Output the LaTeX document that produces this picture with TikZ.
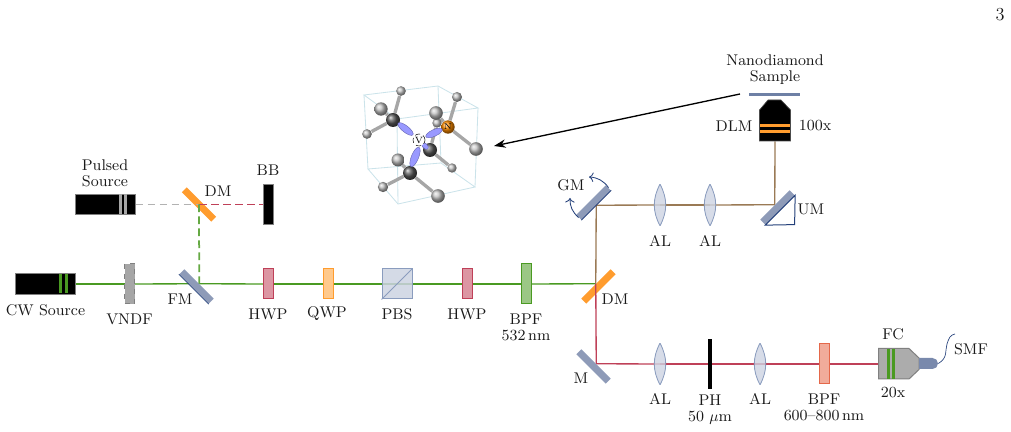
\documentclass[tikz,border=0pt]{standalone}
\usetikzlibrary{arrows.meta,shapes.geometric,shapes.misc}
\pgfdeclarelayer{mirrors}
\pgfdeclarelayer{beams}
\pgfsetlayers{mirrors,beams,main}
\definecolor{beamgreen}{HTML}{4A9A22}
\definecolor{beamred}{HTML}{BF4058}
\definecolor{beambrown}{HTML}{9A7A55}
\definecolor{mirrorsteel}{HTML}{8E9BB8}
\definecolor{mirrorblue}{HTML}{24407A}
\definecolor{dmorange}{HTML}{FF9C2E}
\definecolor{filtersalmon}{HTML}{E5684A}
\definecolor{lenscolor}{HTML}{CDD3E2}
\definecolor{lensedge}{HTML}{8A9CBE}
\definecolor{cubeblue}{HTML}{CBE3EA}
\tikzset{
  lbl/.style={inner sep=0pt, align=center, text=black!90, font=\fontsize{9.3}{9.6}\selectfont},
  source/.style={rectangle, draw=gray, fill=black, line width=0.6pt, inner sep=0pt, minimum width=36pt, minimum height=12.4pt},
  stripe/.style={line width=1.8pt},
  plate/.style={rectangle, draw=#1, fill=#1!55, line width=0.6pt, inner sep=0pt, minimum width=6pt, minimum height=18pt},
  tallplate/.style={plate=#1, minimum height=24pt},
  mirror/.style={rectangle, fill=mirrorsteel, inner sep=0pt, minimum width=25pt, minimum height=4.2pt},
  dichroic/.style={mirror, fill=dmorange},
  lensbox/.style={rectangle, inner sep=0pt, minimum width=7.6pt, minimum height=25pt, path picture={
      \draw[draw=lensedge, fill=lenscolor, fill opacity=0.8, line width=0.5pt]
        (path picture bounding box.south) to[bend right=28] (path picture bounding box.north)
        to[bend right=28] (path picture bounding box.south);}},
  beam/.style={line width=0.8pt},
  dashbeam/.style={line width=1.05pt, dash pattern=on 4.6pt off 2.6pt},
  bond/.style={line width=2pt, draw=gray!70},
  grayball/.style={circle, inner sep=0pt, shading=ball, ball color=gray!50, minimum size=#1},
  carbon/.style={circle, inner sep=0pt, shading=ball, ball color=black!65, minimum size=8.4pt},
  lobe/.style={ellipse, inner sep=0pt, fill=blue!40!white, draw=blue!30!gray, line width=0.2pt},
}
\begin{document}
\begin{tikzpicture}[x=0.6pt,y=-0.6pt]
  \useasboundingbox (0,0) rectangle (1011,432);

  % sources and plates
  \node[source] (CW) at (45,284) {};
  \node[source] (Pulsed) at (105,204.5) {};
  \draw[stripe, beamgreen] (60,274.5) -- (60,293.5);
  \draw[stripe, beamgreen] (66,274.5) -- (66,293.5);
  \draw[stripe, gray!70] (120,194.5) -- (120,214.5);
  \draw[stripe, gray!70] (125.5,194.5) -- (125.5,214.5);

  \node[rectangle, draw=gray, dashed, fill=gray!70, line width=0.6pt, inner sep=0pt, minimum width=6pt, minimum height=24pt] (VNDF) at (129.5,284) {};
  \node[rectangle, draw=gray, fill=black, line width=0.6pt, inner sep=0pt, minimum width=6pt, minimum height=24pt] (BB) at (268.5,204.5) {};
  \node[plate=beamred] (HWPa) at (268.5,284) {};
  \node[plate=dmorange] (QWP) at (328,284) {};
  \node[rectangle, draw=lensedge, fill=lenscolor, fill opacity=0.85, line width=0.6pt, inner sep=0pt, minimum size=18pt] (PBS) at (397,284) {};
  \draw[lensedge, line width=0.5pt] (PBS.south west) -- (PBS.north east);
  \node[plate=beamred] (HWPb) at (467,284) {};
  \node[tallplate=beamgreen] (BPFa) at (526,284) {};
  \node[tallplate=filtersalmon] (BPFb) at (824,364) {};

  % mirrors
  \begin{pgfonlayer}{mirrors}
    \node[dichroic, rotate=-45] (DMa) at (199,204.5) {};
    \node[dichroic, rotate=45] (DMb) at (598.47,286.47) {};
  \end{pgfonlayer}
  \node[mirror, rotate=-45] (FM) at (196.53,286.47) {};
  \draw[mirrorblue, line width=0.5pt] (FM.south west) -- (FM.south east);
  \node[mirror, rotate=-45] (M) at (593.53,366.47) {};
  \node[mirror, rotate=45] (GM) at (593.53,202.53) {};
  \draw[mirrorblue, line width=0.5pt] (GM.south west) -- (GM.south east);
  \node[mirror, rotate=45] (UM) at (777.47,207.47) {};
  \coordinate (UMcorner) at (794.6,224.6);
  \draw[mirrorblue, line width=0.6pt] (UM.south west) -- (UMcorner) -- (UM.south east) -- cycle;
  \coordinate (GMtipa) at (589,177);
  \coordinate (GMtipb) at (570,198);
  \draw[->, mirrorblue, line width=0.5pt] (GM.east) to[bend right=25] (GMtipa);
  \draw[->, mirrorblue, line width=0.5pt] (GM.west) to[bend left=25] (GMtipb);

  % lenses and pinhole
  \node[lensbox] (ALa) at (660,205) {};
  \node[lensbox] (ALb) at (710,205) {};
  \node[lensbox] (ALc) at (660,364) {};
  \node[lensbox] (ALd) at (760,364) {};
  \node[rectangle, fill=black, inner sep=0pt, minimum width=1.9pt, minimum height=30pt] (PH) at (710,364) {};

  % objective, sample, fibre
  \node[rectangle, inner sep=0pt, minimum width=18.6pt, minimum height=24.6pt] (DLM) at (775,120.5) {};
  \draw[draw=gray!60!black, fill=black, line width=0.4pt] (759.5,141) -- (759.5,110) -- (768,100) -- (781,100) -- (790.5,110) -- (790.5,141) -- cycle;
  \draw[dmorange, line width=1.9pt] (760,125.5) -- (790,125.5);
  \draw[dmorange, line width=1.9pt] (760,131.5) -- (790,131.5);
  \node[rectangle, fill=mirrorsteel!70!mirrorblue, inner sep=0pt, minimum width=30.6pt, minimum height=1.8pt] (Sample) at (774.5,94.5) {};
  \node[rectangle, inner sep=0pt, minimum width=24.6pt, minimum height=18.6pt] (FC) at (898.5,364) {};
  \draw[draw=gray, fill=gray!65, line width=0.6pt] (878.5,348.5) -- (909,348.5) -- (919,358) -- (919,369.5) -- (909,379) -- (878.5,379) -- cycle;
  \draw[stripe, beamgreen] (888.5,349) -- (888.5,379);
  \draw[stripe, beamgreen] (893.5,349) -- (893.5,379);
  \node[rounded rectangle, rounded rectangle west arc=none, fill=mirrorsteel!80!mirrorblue, inner sep=0pt, minimum width=11.4pt, minimum height=6.6pt] (Fibre) at (928.5,363.5) {};
  \coordinate (SMFend) at (955,334);
  \draw[mirrorblue, line width=0.4pt] (Fibre.east) .. controls (948,358) and (945,350) .. (947,344) .. controls (949,338) and (950,335) .. (SMFend);

  % beams
  \begin{pgfonlayer}{beams}
    \draw[beam, beamgreen] (CW.east) -- (VNDF.center);
    \draw[beam, beamgreen] (VNDF.center) -- (FM.north);
    \draw[beam, beamgreen] (FM.north) -- (HWPa.center);
    \draw[beam, beamgreen] (HWPa.center) -- (QWP.center);
    \draw[beam, beamgreen] (QWP.center) -- (PBS.center);
    \draw[beam, beamgreen] (PBS.center) -- (HWPb.center);
    \draw[beam, beamgreen] (HWPb.center) -- (BPFa.center);
    \draw[beam, beamgreen] (BPFa.center) -- (DMb.north);

    \draw[dashbeam, gray!60] (Pulsed.east) -- (DMa.center);
    \draw[dashbeam, beamred] (DMa.center) -- (BB.west);
    \draw[dashbeam, beamgreen!85!white] (DMa.center) -- (FM.north);

    \draw[beam, beambrown] (DMb.north) -- (GM.south);
    \draw[beam, beambrown] (GM.south) -- (ALa.center);
    \draw[beam, beambrown] (ALa.center) -- (ALb.center);
    \draw[beam, beambrown] (ALb.center) -- (UM.north);
    \draw[beam, beambrown] (UM.north) -- (DLM.south);

    \draw[beam, beamred] (DMb.north) -- (M.north);
    \draw[beam, beamred] (M.north) -- (ALc.center);
    \draw[beam, beamred] (ALc.center) -- (PH.center);
    \draw[beam, beamred] (PH.center) -- (ALd.center);
    \draw[beam, beamred] (ALd.center) -- (BPFb.center);
    \draw[beam, beamred] (BPFb.center) -- (FC.west);
  \end{pgfonlayer}

  % molecule
  \coordinate (TBL) at (364,95);
  \coordinate (TBR) at (438,86);
  \coordinate (TFR) at (478,108);
  \coordinate (TFL) at (397,119);
  \coordinate (LBL) at (368,169);
  \coordinate (LBR) at (441,163);
  \coordinate (LFR) at (475,187);
  \coordinate (LFL) at (398,204);
  \begin{pgfonlayer}{beams}
    \draw[cubeblue, line width=0.5pt] (TBL) -- (TBR) -- (TFR) -- (TFL) -- cycle;
    \draw[cubeblue, line width=0.5pt] (LBL) -- (LBR) -- (LFR) -- (LFL) -- cycle;
    \draw[cubeblue, line width=0.5pt] (TBL) -- (LBL);
    \draw[cubeblue, line width=0.5pt] (TBR) -- (LBR);
    \draw[cubeblue, line width=0.5pt] (TFR) -- (LFR);
    \draw[cubeblue, line width=0.5pt] (TFL) -- (LFL);
  \end{pgfonlayer}

  \node[grayball=5.8pt] (Ha) at (401,91) {};
  \node[grayball=8pt] (Hb) at (381,109) {};
  \node[grayball=5.8pt] (Hc) at (367,134) {};
  \node[grayball=6pt] (Hd) at (457,97) {};
  \node[grayball=5.6pt] (He) at (437,123) {};
  \node[grayball=8.2pt] (Hf) at (436,113) {};
  \node[grayball=8.2pt] (Hg) at (476,149) {};
  \node[grayball=7.8pt] (Hh) at (398,160) {};
  \node[grayball=5.6pt] (Hi) at (452,168) {};
  \node[grayball=6.2pt] (Hj) at (383,187) {};
  \node[grayball=8.2pt] (Hk) at (438,196) {};
  \node[carbon] (Ca) at (393,120) {};
  \node[carbon] (Cb) at (430,150) {};
  \node[carbon] (Cc) at (410,173) {};
  \node[circle, inner sep=0pt, shading=ball, ball color=orange!90!yellow, minimum size=8pt, font=\fontsize{5}{5}\selectfont] (N) at (448,127) {N};

  \begin{pgfonlayer}{beams}
    \draw[bond] (Ca) -- (Ha);
    \draw[bond] (Ca) -- (Hb);
    \draw[bond] (Ca) -- (Hc);
    \draw[bond] (N) -- (Hd);
    \draw[bond] (N) -- (Hf);
    \draw[bond] (N) -- (Hg);
    \draw[bond] (Cb) -- (He);
    \draw[bond] (Cb) -- (Hi);
    \draw[bond] (Cc) -- (Hh);
    \draw[bond] (Cc) -- (Hj);
    \draw[bond] (Cc) -- (Hk);
  \end{pgfonlayer}

  \node[lobe, minimum width=11.4pt, minimum height=4pt, rotate=-38] (LobeA) at (405.5,129) {};
  \node[lobe, minimum width=10.8pt, minimum height=4pt, rotate=25] (LobeB) at (434,133) {};
  \node[lobe, minimum width=12.6pt, minimum height=4.4pt, rotate=68] (LobeC) at (415,157) {};
  \node[lobe, minimum width=5pt, minimum height=3pt, rotate=-45] (LobeD) at (425,146) {};
  \node[circle, inner sep=0pt, draw=black, densely dashed, line width=0.3pt, fill=white, minimum size=7.2pt, font=\fontsize{5.5}{5.5}\selectfont] (V) at (419,140) {V};

  % pointer to the molecule
  \coordinate (ArrowStart) at (740,94);
  \coordinate (ArrowEnd) at (494,146);
  \draw[-{Stealth[length=7pt,width=5pt]}, line width=0.8pt] (ArrowStart) -- (ArrowEnd);

  % labels
  \node[lbl] (LPage) at (1000,15) {\fontsize{11}{12}\selectfont 3};
  \node[lbl] (LNano) at (775,70) {Nanodiamond\\Sample};
  \node[lbl] (LDLM) at (734,126) {DLM};
  \node[lbl] (LObj) at (815,126) {100x};
  \node[lbl] (LUM) at (811,209) {UM};
  \node[lbl] (LALa) at (660,241) {AL};
  \node[lbl] (LALb) at (710,241) {AL};
  \node[lbl] (LGM) at (571,185) {GM};
  \node[lbl] (LDMa) at (218,191) {DM};
  \node[lbl] (LBB) at (268,170) {BB};
  \node[lbl] (LPulsed) at (105,173) {Pulsed\\Source};
  \node[lbl] (LCW) at (45.5,310) {CW Source};
  \node[lbl] (LVNDF) at (129.5,319) {VNDF};
  \node[lbl] (LFM) at (180,299) {FM};
  \node[lbl] (LHWPa) at (268,314) {HWP};
  \node[lbl] (LQWP) at (327,314) {QWP};
  \node[lbl] (LPBS) at (397,314) {PBS};
  \node[lbl] (LHWPb) at (467,314) {HWP};
  \node[lbl] (LBPFa) at (526,327) {BPF\\532\,nm};
  \node[lbl] (LDMb) at (615,299) {DM};
  \node[lbl] (LM) at (581,378) {M};
  \node[lbl] (LALc) at (660,399) {AL};
  \node[lbl] (LPH) at (710,410) {PH\\50 $\mu$m};
  \node[lbl] (LALd) at (760,399) {AL};
  \node[lbl] (LBPFb) at (824,407) {BPF\\600--800\,nm};
  \node[lbl] (LFC) at (893,334) {FC};
  \node[lbl] (LTwenty) at (893,393) {20x};
  \node[lbl] (LSMF) at (971,349) {SMF};
\end{tikzpicture}
\end{document}
